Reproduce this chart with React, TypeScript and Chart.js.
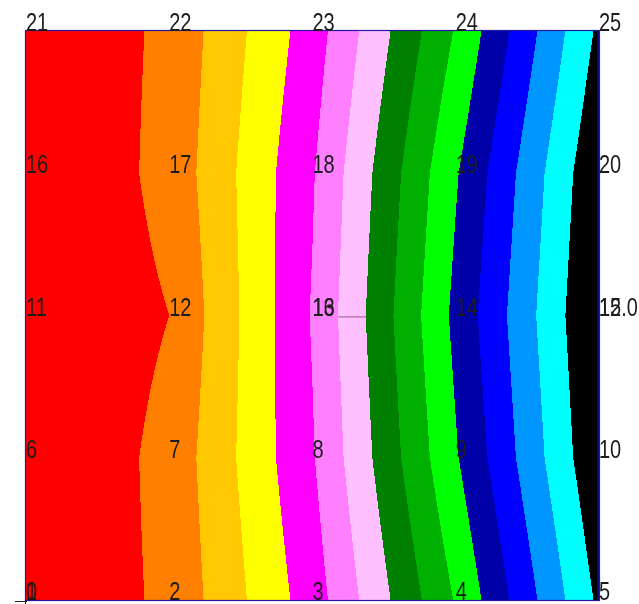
import React, { useEffect, useRef } from "react";
import { Chart, registerables } from "chart.js";

Chart.register(...registerables);

// Grid node positions (5 x 5 nodes, numbered left→right, bottom→top)
const columnPositions = [0, 1, 2, 3, 4];
const rowPositions = [0, 1, 2, 3, 4];

// Field values at the nodes, one array per row (bottom row first)
const row1Values = [0.0, 1.21, 4.51, 9.08, 14.2]; // nodes 1-5
const row2Values = [-0.2, 1.32, 4.92, 9.9, 14.9]; // nodes 6-10
const row3Values = [0.0, 1.0, 5.08, 10.25, 15.15]; // nodes 11-15
const row4Values = [-0.2, 1.32, 4.92, 9.9, 14.9]; // nodes 16-20
const row5Values = [0.0, 1.21, 4.51, 9.08, 14.2]; // nodes 21-25

// Contour levels and the fill colour of each band (15 bands)
const contourLevels = [1, 2, 3, 4, 5, 6, 7, 8, 9, 10, 11, 12, 13, 14];
const bandColors = [
  "#FF0000",
  "#FF8000",
  "#FFC800",
  "#FFFF00",
  "#FF00FF",
  "#FF80FF",
  "#FFC0FF",
  "#008000",
  "#00B000",
  "#00FF00",
  "#0000A8",
  "#0000FF",
  "#0096FF",
  "#00FFFF",
  "#000000",
];

// Node number labels
const nodeLabels = [
  "1", "2", "3", "4", "5",
  "6", "7", "8", "9", "10",
  "11", "12", "13", "14", "15",
  "16", "17", "18", "19", "20",
  "21", "22", "23", "24", "25",
];
// Extra labels printed over some nodes
const extraLabelNodes = [1, 13, 15];
const extraLabelTexts = ["0", "16", "12.0"];

// Short stray segment near the centre
const strayX = [2.18, 2.39];
const strayY = [1.99, 1.99];

const gridRows = [row1Values, row2Values, row3Values, row4Values, row5Values];

function hexToRgb(h: string): [number, number, number] {
  const n = parseInt(h.slice(1), 16);
  return [(n >> 16) & 255, (n >> 8) & 255, n & 255];
}

function findCell(pos: number[], v: number): [number, number] {
  let i = 0;
  while (i < pos.length - 2 && v > pos[i + 1]) i++;
  const f = (v - pos[i]) / (pos[i + 1] - pos[i]);
  return [i, Math.max(0, Math.min(1, f))];
}

function drawNarrowText(ctx: CanvasRenderingContext2D, t: string, x: number, y: number) {
  ctx.save();
  ctx.translate(x, y);
  ctx.scale(0.8, 1);
  ctx.fillText(t, 0, 0);
  ctx.restore();
}

const contourPlugin = {
  id: "contourFill",
  beforeDatasetsDraw(chart: any) {
    const { ctx, chartArea: a, scales } = chart;
    const xs = scales.x;
    const ys = scales.y;
    const w = Math.round(a.right - a.left);
    const h = Math.round(a.bottom - a.top);
    const off = document.createElement("canvas");
    off.width = w;
    off.height = h;
    const octx = off.getContext("2d")!;
    const img = octx.createImageData(w, h);
    const rgb = bandColors.map(hexToRgb);
    const xCells = [] as [number, number][];
    for (let px = 0; px < w; px++) {
      xCells.push(findCell(columnPositions, xs.getValueForPixel(a.left + px + 0.5)));
    }
    for (let py = 0; py < h; py++) {
      const [j, fy] = findCell(rowPositions, ys.getValueForPixel(a.top + py + 0.5));
      const r0 = gridRows[j];
      const r1 = gridRows[j + 1];
      for (let px = 0; px < w; px++) {
        const [i, fx] = xCells[px];
        const v =
          r0[i] * (1 - fx) * (1 - fy) +
          r0[i + 1] * fx * (1 - fy) +
          r1[i] * (1 - fx) * fy +
          r1[i + 1] * fx * fy;
        let b = 0;
        while (b < contourLevels.length && v >= contourLevels[b]) b++;
        const c = rgb[b];
        const k = (py * w + px) * 4;
        img.data[k] = c[0];
        img.data[k + 1] = c[1];
        img.data[k + 2] = c[2];
        img.data[k + 3] = 255;
      }
    }
    octx.putImageData(img, 0, 0);
    ctx.drawImage(off, a.left, a.top);
  },
  afterDatasetsDraw(chart: any) {
    const { ctx, chartArea: a, scales } = chart;
    const xs = scales.x;
    const ys = scales.y;
    ctx.save();
    // frame
    ctx.strokeStyle = "#2414A8";
    ctx.lineWidth = 1.2;
    ctx.strokeRect(a.left - 0.5, a.top - 0.5, a.right - a.left + 1, a.bottom - a.top + 1);
    ctx.strokeStyle = "#0a0a70";
    ctx.lineWidth = 2;
    ctx.beginPath();
    ctx.moveTo(a.right - 1, a.top);
    ctx.lineTo(a.right - 1, a.bottom);
    ctx.stroke();
    // small origin tick
    ctx.strokeStyle = "#202020";
    ctx.lineWidth = 1;
    ctx.beginPath();
    ctx.moveTo(a.left - 11, a.bottom + 1.5);
    ctx.lineTo(a.left + 1, a.bottom + 1.5);
    ctx.moveTo(a.left - 0.5, a.bottom);
    ctx.lineTo(a.left - 0.5, a.bottom + 5);
    ctx.stroke();
    // node labels
    ctx.font = '25px "Liberation Sans", Arial, sans-serif';
    ctx.fillStyle = "#1c1c1c";
    ctx.textAlign = "left";
    ctx.textBaseline = "alphabetic";
    const nCols = columnPositions.length;
    nodeLabels.forEach((t, k) => {
      const px = xs.getPixelForValue(columnPositions[k % nCols]);
      const py = ys.getPixelForValue(rowPositions[Math.floor(k / nCols)]);
      drawNarrowText(ctx, t, px, py);
    });
    extraLabelNodes.forEach((n, idx) => {
      const k = n - 1;
      const px = xs.getPixelForValue(columnPositions[k % nCols]);
      const py = ys.getPixelForValue(rowPositions[Math.floor(k / nCols)]);
      drawNarrowText(ctx, extraLabelTexts[idx], px, py);
    });
    ctx.restore();
  },
};

export default function App() {
  const ref = useRef<HTMLCanvasElement | null>(null);
  useEffect(() => {
    if (!ref.current) return;
    const nodes = [] as { x: number; y: number }[];
    rowPositions.forEach((y) => columnPositions.forEach((x) => nodes.push({ x, y })));
    const chart = new Chart(ref.current, {
      type: "scatter",
      data: {
        datasets: [
          { data: nodes, pointRadius: 0, showLine: false },
          {
            type: "line",
            data: strayX.map((x, i) => ({ x, y: strayY[i] })),
            borderColor: "rgba(130,50,90,0.75)",
            borderWidth: 1,
            pointRadius: 0,
          } as any,
        ],
      },
      options: {
        responsive: false,
        animation: false,
        events: [],
        layout: { padding: { left: 26, top: 31, right: 40, bottom: 4 } },
        plugins: { legend: { display: false }, tooltip: { enabled: false } },
        scales: {
          x: { type: "linear", min: 0, max: 4, display: false },
          y: { type: "linear", min: 0, max: 4, display: false },
        },
      },
      plugins: [contourPlugin],
    });
    return () => chart.destroy();
  }, []);
  return (
    <div style={{ position: "fixed", left: 0, top: 0, width: 639, height: 604, background: "#fff" }}>
      <canvas ref={ref} width={639} height={604} style={{ display: "block" }} />
    </div>
  );
}
